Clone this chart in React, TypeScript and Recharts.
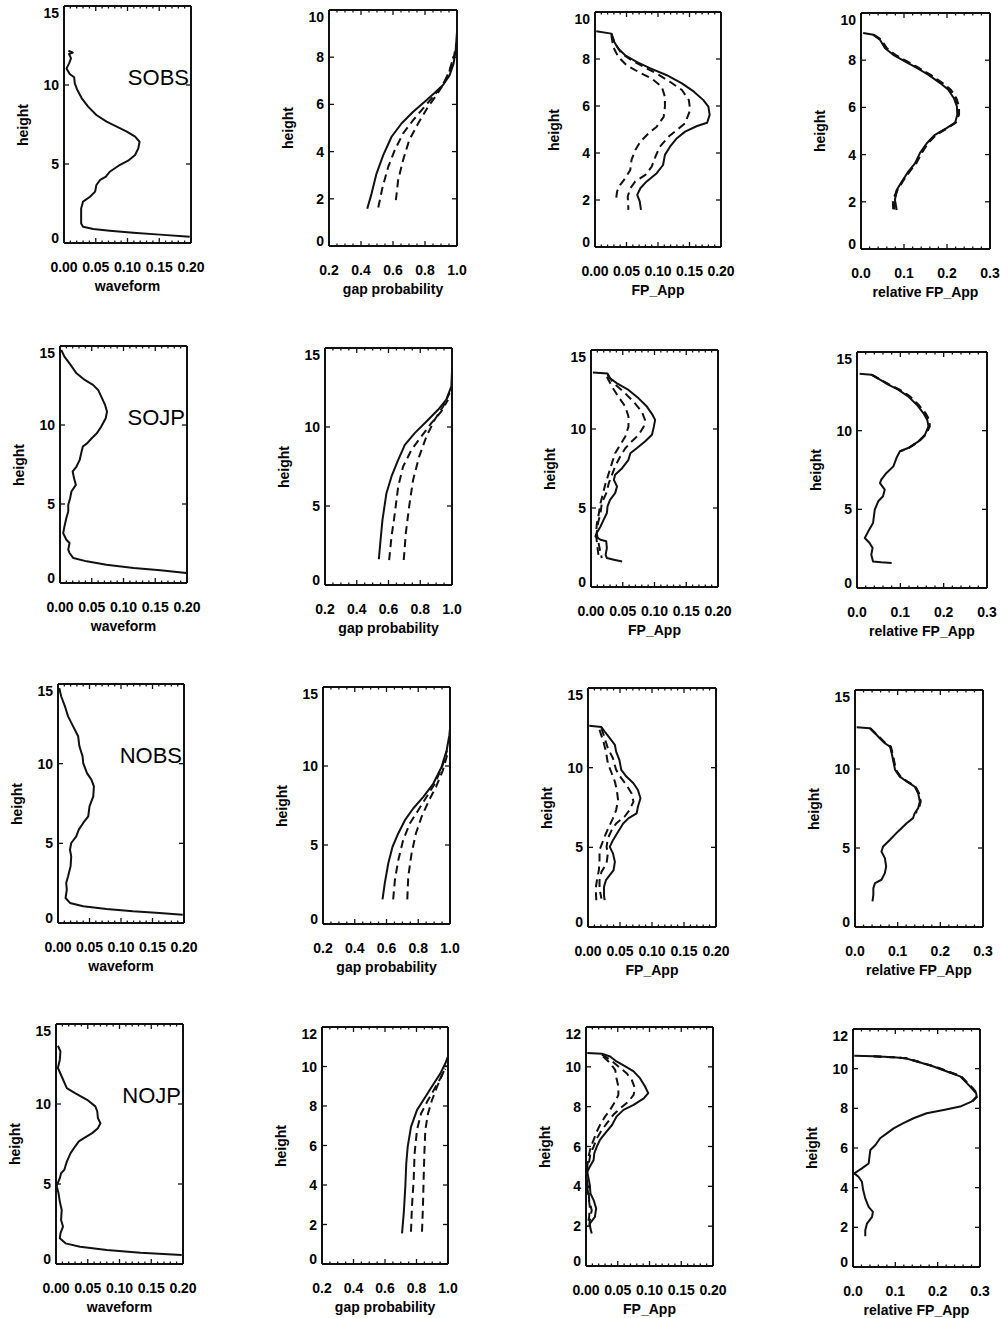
import React from 'react';
import { ScatterChart, Scatter, XAxis, YAxis } from 'recharts';

// Each profile point is [height, value].
type Pt = [number, number];

// ---------- axis tick labels ----------
const WAVE_TICKS = [0, 0.05, 0.1, 0.15, 0.2];
const GAP_TICKS = [0.2, 0.4, 0.6, 0.8, 1.0];
const FP_TICKS = [0, 0.05, 0.1, 0.15, 0.2];
const REL_TICKS = [0, 0.1, 0.2, 0.3];
const H15_TICKS = [0, 5, 10, 15];
const H10_TICKS = [0, 2, 4, 6, 8, 10];
const H12_TICKS = [0, 2, 4, 6, 8, 10, 12];
const SITES = ['SOBS', 'SOJP', 'NOBS', 'NOJP'];
const X_TITLES = ['waveform', 'gap probability', 'FP_App', 'relative FP_App'];

// ---------- SOBS ----------
const sobsWaveform: Pt[] = [[12.17,0.007],[12.05,0.014],[11.96,0.008],[11.69,0.011],[11.37,0.008],[11.05,0.004],[10.70,0.009],[10.49,0.016],[10.10,0.017],[9.68,0.021],[9.16,0.028],[8.63,0.038],[8.10,0.051],[7.68,0.067],[7.36,0.083],[7.05,0.099],[6.73,0.112],[6.41,0.119],[5.99,0.117],[5.57,0.112],[5.21,0.101],[4.89,0.086],[4.51,0.072],[4.20,0.066],[3.99,0.057],[3.67,0.051],[3.25,0.049],[2.93,0.041],[2.62,0.030],[2.19,0.027],[1.67,0.027],[1.24,0.027],[1.03,0.030],[0.89,0.046],[0.78,0.072],[0.65,0.109],[0.53,0.151],[0.40,0.198]];
const sobsGap: Pt[] = [[1.58,0.439],[2.22,0.466],[3.07,0.497],[3.85,0.539],[4.63,0.591],[5.19,0.653],[5.69,0.726],[6.11,0.798],[6.49,0.861],[6.82,0.913],[7.24,0.954],[7.74,0.979],[8.30,0.992],[9.08,1.0]];
const sobsGapA: Pt[] = [[1.63,0.508],[2.50,0.535],[3.35,0.570],[4.06,0.611],[4.77,0.663],[5.33,0.726],[5.83,0.788],[6.32,0.850],[6.75,0.902],[7.24,0.944],[7.81,0.975],[8.59,0.996]];
const sobsGapB: Pt[] = [[1.94,0.618],[2.79,0.632],[3.64,0.663],[4.48,0.701],[5.19,0.757],[5.90,0.819],[6.39,0.871],[6.82,0.913],[7.38,0.950],[8.02,0.979]];
const sobsFp: Pt[] = [[9.18,0.002],[9.08,0.026],[8.80,0.029],[8.44,0.037],[8.16,0.048],[7.88,0.066],[7.60,0.088],[7.31,0.114],[6.96,0.138],[6.61,0.157],[6.25,0.172],[5.97,0.180],[5.62,0.182],[5.29,0.178],[5.15,0.162],[4.91,0.143],[4.63,0.130],[4.27,0.119],[3.92,0.111],[3.49,0.108],[3.14,0.098],[2.79,0.082],[2.50,0.072],[2.22,0.067],[1.94,0.071],[1.58,0.073]];
const sobsFpA: Pt[] = [[9.08,0.026],[8.66,0.032],[8.23,0.042],[7.95,0.058],[7.67,0.077],[7.38,0.098],[7.03,0.119],[6.68,0.138],[6.25,0.149],[5.83,0.151],[5.26,0.143],[4.98,0.130],[4.70,0.117],[4.27,0.103],[3.85,0.096],[3.42,0.090],[3.07,0.080],[2.79,0.064],[2.50,0.056],[2.15,0.052],[1.58,0.053]];
const sobsFpB: Pt[] = [[9.01,0.026],[8.51,0.029],[8.09,0.037],[7.74,0.050],[7.45,0.069],[7.17,0.090],[6.82,0.106],[6.39,0.111],[5.97,0.111],[5.54,0.109],[5.12,0.098],[4.84,0.085],[4.48,0.072],[4.13,0.064],[3.71,0.058],[3.28,0.056],[2.93,0.048],[2.64,0.040],[2.36,0.035],[1.94,0.033]];
const sobsRel: Pt[] = [[9.15,0.005],[9.08,0.029],[8.87,0.044],[8.51,0.056],[8.23,0.075],[7.95,0.102],[7.67,0.130],[7.38,0.157],[7.03,0.184],[6.75,0.203],[6.39,0.216],[6.04,0.223],[5.69,0.224],[5.36,0.219],[5.12,0.199],[4.84,0.172],[4.48,0.153],[4.06,0.137],[3.64,0.126],[3.28,0.110],[2.86,0.095],[2.50,0.083],[2.08,0.079],[1.65,0.083]];
const sobsRelA: Pt[] = [[9.08,0.030],[8.87,0.047],[8.51,0.060],[8.23,0.080],[7.95,0.107],[7.67,0.135],[7.38,0.162],[7.03,0.190],[6.75,0.209],[6.39,0.222],[6.04,0.228],[5.69,0.228],[5.36,0.221],[5.12,0.201],[4.84,0.175],[4.48,0.156],[4.06,0.141],[3.64,0.129],[3.28,0.113],[2.86,0.097],[2.50,0.085],[2.08,0.077],[1.65,0.078]];
const sobsRelB: Pt[] = [[9.08,0.028],[8.87,0.045],[8.51,0.058],[8.23,0.078],[7.95,0.105],[7.67,0.132],[7.38,0.160],[7.03,0.187],[6.75,0.207],[6.39,0.220],[6.04,0.226],[5.69,0.226],[5.36,0.220],[5.12,0.200],[4.84,0.173],[4.48,0.154],[4.06,0.139],[3.64,0.127],[3.28,0.112],[2.86,0.096],[2.50,0.084],[2.08,0.074],[1.65,0.075]];

// ---------- SOJP ----------
const sojpWaveform: Pt[] = [[14.75,0.002],[14.33,0.007],[13.90,0.015],[13.27,0.026],[12.85,0.039],[12.54,0.052],[12.22,0.060],[11.80,0.065],[11.27,0.071],[10.85,0.074],[10.43,0.072],[9.90,0.065],[9.48,0.058],[9.16,0.050],[8.85,0.043],[8.64,0.036],[8.32,0.034],[7.79,0.031],[7.37,0.026],[7.06,0.020],[6.64,0.022],[6.21,0.025],[5.79,0.018],[5.37,0.016],[4.95,0.013],[4.53,0.013],[4.11,0.010],[3.58,0.007],[3.16,0.005],[2.74,0.010],[2.53,0.015],[2.11,0.013],[1.90,0.015],[1.58,0.021],[1.37,0.042],[1.16,0.073],[0.95,0.116],[0.80,0.158],[0.63,0.199]];
const sojpGap: Pt[] = [[1.63,0.539],[2.85,0.550],[4.12,0.562],[5.81,0.587],[6.87,0.619],[7.92,0.661],[8.87,0.703],[9.61,0.765],[10.35,0.839],[11.09,0.912],[11.73,0.964],[12.57,0.996],[13.52,1.0]];
const sojpGapA: Pt[] = [[1.58,0.604],[3.06,0.619],[4.54,0.640],[6.23,0.661],[7.50,0.692],[8.56,0.745],[9.40,0.807],[10.25,0.870],[10.99,0.933],[11.73,0.975]];
const sojpGapB: Pt[] = [[1.58,0.696],[3.27,0.709],[4.96,0.730],[6.65,0.755],[8.13,0.793],[9.40,0.839],[10.46,0.891],[11.30,0.944],[12.15,0.985]];
const sojpFp: Pt[] = [[13.57,0.003],[13.52,0.026],[13.21,0.030],[12.89,0.041],[12.47,0.059],[11.94,0.075],[11.42,0.088],[10.89,0.097],[10.58,0.101],[10.15,0.099],[9.63,0.096],[9.21,0.085],[8.78,0.072],[8.47,0.062],[8.05,0.059],[7.52,0.049],[7.10,0.038],[6.78,0.036],[6.36,0.041],[5.94,0.038],[5.52,0.030],[5.10,0.026],[4.68,0.025],[4.26,0.020],[3.83,0.015],[3.41,0.009],[3.20,0.007],[2.99,0.015],[2.89,0.024],[2.46,0.025],[2.04,0.023],[1.83,0.025],[1.73,0.036],[1.62,0.049]];
const sojpFpA: Pt[] = [[13.42,0.026],[12.89,0.036],[12.37,0.051],[11.73,0.067],[11.10,0.080],[10.58,0.085],[10.15,0.083],[9.63,0.075],[9.21,0.064],[8.78,0.054],[8.26,0.046],[7.63,0.038],[7.10,0.033],[6.57,0.028],[5.94,0.024],[5.31,0.017],[4.68,0.015],[4.04,0.011],[3.41,0.009],[2.78,0.012],[2.15,0.015],[1.83,0.017]];
const sojpFpB: Pt[] = [[13.31,0.025],[12.68,0.033],[12.05,0.043],[11.42,0.054],[10.79,0.059],[10.15,0.059],[9.52,0.054],[9.00,0.046],[8.47,0.038],[7.84,0.033],[7.20,0.028],[6.57,0.023],[5.94,0.019],[5.31,0.015],[4.57,0.012],[3.94,0.009],[3.31,0.008],[2.57,0.010],[1.94,0.012]];
const sojpRel: Pt[] = [[13.62,0.006],[13.56,0.033],[13.24,0.053],[12.92,0.072],[12.61,0.095],[12.18,0.118],[11.65,0.138],[11.12,0.153],[10.70,0.162],[10.28,0.165],[9.75,0.157],[9.32,0.142],[8.90,0.118],[8.69,0.099],[8.26,0.091],[7.73,0.084],[7.31,0.068],[6.89,0.056],[6.67,0.053],[6.25,0.064],[5.83,0.060],[5.51,0.049],[4.98,0.041],[4.56,0.039],[4.13,0.037],[3.60,0.026],[3.18,0.018],[2.86,0.029],[2.54,0.036],[2.12,0.033],[1.69,0.037],[1.63,0.056],[1.59,0.080]];
const sojpRelA: Pt[] = [[13.56,0.034],[13.24,0.055],[12.92,0.075],[12.61,0.098],[12.18,0.122],[11.65,0.142],[11.12,0.158],[10.70,0.167],[10.28,0.168],[9.75,0.159],[9.32,0.143],[8.90,0.120],[8.69,0.100]];
const sojpRelB: Pt[] = [[13.56,0.033],[13.24,0.054],[12.92,0.074],[12.61,0.097],[12.18,0.121],[11.65,0.140],[11.12,0.156],[10.70,0.165],[10.28,0.166],[9.75,0.158],[9.32,0.142],[8.90,0.119]];

// ---------- NOBS ----------
const nobsWaveform: Pt[] = [[14.75,0.002],[14.23,0.005],[13.60,0.011],[12.97,0.016],[12.34,0.024],[11.72,0.032],[11.09,0.034],[10.46,0.039],[10.04,0.040],[9.41,0.046],[9.00,0.053],[8.58,0.057],[7.95,0.056],[7.32,0.050],[6.69,0.048],[6.28,0.040],[5.86,0.033],[5.44,0.029],[5.02,0.021],[4.60,0.019],[4.18,0.021],[3.56,0.020],[2.93,0.016],[2.51,0.013],[2.09,0.014],[1.57,0.012],[1.26,0.019],[1.05,0.040],[0.88,0.077],[0.73,0.119],[0.63,0.161],[0.52,0.198]];
const nobsGap: Pt[] = [[1.56,0.575],[2.57,0.589],[3.83,0.611],[4.89,0.638],[5.73,0.674],[6.57,0.716],[7.31,0.768],[8.05,0.832],[8.89,0.895],[9.94,0.947],[11.00,0.979],[11.95,0.996],[12.37,1.0]];
const nobsGapA: Pt[] = [[1.56,0.642],[2.78,0.653],[4.04,0.674],[5.31,0.705],[6.36,0.747],[7.20,0.800],[8.05,0.853],[8.89,0.905],[9.94,0.950],[11.00,0.982]];
const nobsGapB: Pt[] = [[1.56,0.731],[2.99,0.737],[4.47,0.758],[5.73,0.785],[6.78,0.821],[7.73,0.863],[8.68,0.912],[9.73,0.955],[10.79,0.985]];
const nobsFp: Pt[] = [[12.63,0.002],[12.55,0.021],[12.27,0.026],[11.85,0.034],[11.43,0.042],[11.01,0.044],[10.49,0.049],[9.86,0.052],[9.44,0.060],[9.02,0.071],[8.60,0.078],[8.08,0.082],[7.55,0.078],[7.13,0.076],[6.82,0.063],[6.50,0.055],[5.98,0.047],[5.45,0.039],[5.03,0.034],[4.62,0.039],[4.09,0.042],[3.57,0.040],[3.25,0.034],[2.94,0.028],[2.52,0.025],[1.99,0.025],[1.68,0.026]];
const nobsFpA: Pt[] = [[12.48,0.021],[11.85,0.026],[11.22,0.031],[10.59,0.039],[9.86,0.044],[9.34,0.052],[8.92,0.060],[8.39,0.068],[7.87,0.071],[7.34,0.065],[6.92,0.057],[6.50,0.044],[6.08,0.037],[5.56,0.031],[5.03,0.029],[4.62,0.031],[3.99,0.029],[3.46,0.021],[2.94,0.018],[2.41,0.018],[1.78,0.021]];
const nobsFpB: Pt[] = [[12.38,0.018],[11.64,0.024],[11.01,0.028],[10.28,0.031],[9.65,0.037],[9.13,0.042],[8.60,0.045],[7.97,0.047],[7.34,0.044],[6.82,0.039],[6.40,0.034],[5.87,0.028],[5.35,0.023],[4.83,0.018],[4.20,0.018],[3.57,0.017],[2.94,0.014],[2.41,0.012],[1.68,0.013]];
const nobsRel: Pt[] = [[12.64,0.004],[12.58,0.035],[12.26,0.047],[11.95,0.058],[11.63,0.070],[11.42,0.082],[11.00,0.086],[10.47,0.090],[9.94,0.094],[9.52,0.105],[9.21,0.121],[8.89,0.140],[8.47,0.148],[7.94,0.152],[7.52,0.148],[7.20,0.140],[6.89,0.136],[6.57,0.121],[6.05,0.101],[5.52,0.082],[5.10,0.066],[4.78,0.062],[4.36,0.070],[3.83,0.073],[3.41,0.070],[2.99,0.062],[2.78,0.047],[2.46,0.043],[2.04,0.043],[1.62,0.041]];
const nobsRelA: Pt[] = [[12.58,0.036],[12.26,0.048],[11.95,0.060],[11.63,0.072],[11.42,0.084],[11.00,0.088],[10.47,0.092],[9.94,0.096],[9.52,0.107],[9.21,0.123],[8.89,0.142],[8.47,0.150],[7.94,0.154],[7.52,0.150],[7.20,0.142]];
const nobsRelB: Pt[] = [[12.58,0.035],[12.26,0.047],[11.95,0.059],[11.63,0.071],[11.42,0.083],[11.00,0.087],[10.47,0.091],[9.94,0.095],[9.52,0.106],[9.21,0.122],[8.89,0.141],[8.47,0.149],[7.94,0.153]];

// ---------- NOJP ----------
const nojpWaveform: Pt[] = [[13.64,0.003],[13.29,0.007],[12.77,0.006],[12.25,0.003],[11.72,0.009],[10.99,0.017],[10.68,0.030],[10.26,0.049],[9.85,0.062],[9.53,0.065],[9.12,0.066],[8.80,0.070],[8.49,0.066],[8.18,0.057],[7.87,0.044],[7.66,0.036],[7.34,0.030],[6.93,0.023],[6.40,0.017],[5.88,0.013],[5.67,0.008],[5.36,0.006],[4.88,0.001],[4.42,0.004],[3.90,0.006],[3.38,0.009],[2.75,0.008],[2.34,0.011],[1.92,0.007],[1.61,0.006],[1.29,0.015],[1.08,0.038],[0.88,0.080],[0.71,0.133],[0.56,0.198]];
const nojpGap: Pt[] = [[1.55,0.708],[2.56,0.719],[3.91,0.729],[5.09,0.735],[5.93,0.744],[6.94,0.765],[7.79,0.803],[8.46,0.856],[9.13,0.909],[9.64,0.951],[10.15,0.983],[10.48,0.998]];
const nojpGapA: Pt[] = [[1.63,0.765],[2.90,0.771],[4.25,0.782],[5.60,0.788],[6.78,0.803],[7.62,0.829],[8.21,0.867],[8.80,0.909],[9.39,0.951],[9.89,0.983]];
const nojpGapB: Pt[] = [[1.63,0.835],[2.90,0.841],[4.25,0.845],[5.60,0.850],[6.78,0.856],[7.62,0.873],[8.29,0.898],[8.97,0.930],[9.56,0.962],[10.06,0.990]];
const nojpFp: Pt[] = [[10.69,0.002],[10.66,0.025],[10.52,0.038],[10.27,0.048],[10.02,0.062],[9.77,0.075],[9.43,0.085],[9.01,0.093],[8.68,0.098],[8.42,0.091],[8.09,0.075],[7.84,0.059],[7.50,0.048],[7.08,0.041],[6.66,0.030],[6.33,0.022],[5.99,0.017],[5.66,0.013],[5.32,0.012],[4.98,0.006],[4.73,0.002],[4.40,0.004],[4.06,0.006],[3.64,0.007],[3.31,0.012],[2.89,0.016],[2.47,0.014],[2.13,0.006],[1.88,0.007],[1.63,0.009]];
const nojpFpA: Pt[] = [[10.61,0.025],[10.36,0.038],[10.02,0.051],[9.68,0.064],[9.35,0.072],[8.93,0.077],[8.59,0.075],[8.26,0.067],[7.92,0.054],[7.59,0.043],[7.17,0.033],[6.83,0.025],[6.41,0.017],[5.99,0.012],[5.66,0.007],[5.24,0.005],[4.82,0.002],[4.31,0.001],[3.81,0.004],[3.31,0.005],[2.80,0.009],[2.30,0.006],[1.88,0.005]];
const nojpFpB: Pt[] = [[10.52,0.027],[10.19,0.038],[9.85,0.046],[9.43,0.048],[9.01,0.051],[8.59,0.051],[8.26,0.046],[7.84,0.038],[7.50,0.030],[7.08,0.022],[6.75,0.017],[6.33,0.012],[5.91,0.007],[5.49,0.004],[4.98,0.002],[4.48,0.001],[3.98,0.002],[3.47,0.004],[2.97,0.006],[2.47,0.005],[1.96,0.002]];
const nojpRel: Pt[] = [[10.65,0.003],[10.62,0.049],[10.58,0.096],[10.53,0.123],[10.36,0.151],[10.11,0.190],[9.86,0.222],[9.61,0.253],[9.27,0.269],[9.02,0.280],[8.76,0.291],[8.60,0.292],[8.34,0.280],[8.09,0.253],[7.92,0.214],[7.75,0.174],[7.50,0.143],[7.25,0.119],[6.99,0.096],[6.74,0.080],[6.49,0.064],[6.15,0.053],[5.90,0.041],[5.56,0.039],[5.22,0.037],[4.97,0.021],[4.72,0.003],[4.55,0.013],[4.30,0.021],[3.88,0.024],[3.46,0.029],[3.03,0.037],[2.78,0.047],[2.53,0.045],[2.19,0.033],[1.85,0.029],[1.55,0.029]];
const nojpRelA: Pt[] = [[10.62,0.049],[10.58,0.097],[10.53,0.125],[10.36,0.153],[10.11,0.193],[9.86,0.224],[9.61,0.256],[9.27,0.271],[9.02,0.283],[8.76,0.293],[8.60,0.294],[8.34,0.282]];
const nojpRelB: Pt[] = [[10.62,0.048],[10.58,0.096],[10.53,0.124],[10.36,0.152],[10.11,0.192],[9.86,0.223],[9.61,0.255],[9.27,0.270],[9.02,0.282],[8.76,0.292],[8.60,0.293]];

// ---------- layout ----------
interface Series { pts: Pt[]; dashed?: boolean }
interface PanelDef {
  box: [number, number, number, number]; // plot frame: left, top, right, bottom
  xDomain: [number, number];
  xMajor: number[];
  xMinorStep: number;
  xDecimals: number;
  xTitle: string;
  yMax: number;
  yTicks: number[];
  series: Series[];
  tag?: string;
}

const FONT = "'Liberation Sans', Arial, Helvetica, sans-serif";
const INK = '#111';

const tickGrid = (lo: number, hi: number, step: number) => {
  const n = Math.round((hi - lo) / step);
  const out: number[] = [];
  for (let i = 0; i <= n; i++) out.push(Math.round((lo + i * step) * 1e6) / 1e6);
  return out;
};

const isIn = (list: number[], v: number) => list.some((m) => Math.abs(m - v) < 1e-9);

const col = (
  kind: number,
  box: [number, number, number, number],
  yMax: number,
  yTicks: number[],
  series: Series[],
  tag?: string,
): PanelDef => {
  const spec = [
    { xDomain: [0, 0.2] as [number, number], xMajor: WAVE_TICKS, xMinorStep: 0.01, xDecimals: 2 },
    { xDomain: [0.2, 1.0] as [number, number], xMajor: GAP_TICKS, xMinorStep: 0.05, xDecimals: 1 },
    { xDomain: [0, 0.2] as [number, number], xMajor: FP_TICKS, xMinorStep: 0.01, xDecimals: 2 },
    { xDomain: [0, 0.3] as [number, number], xMajor: REL_TICKS, xMinorStep: 0.02, xDecimals: 1 },
  ][kind];
  return { ...spec, box, yMax, yTicks, series, tag, xTitle: X_TITLES[kind] };
};

const S = (pts: Pt[]): Series => ({ pts });
const D = (pts: Pt[]): Series => ({ pts, dashed: true });

const PANELS: PanelDef[] = [
  col(0, [64, 6, 191, 243], 15, H15_TICKS, [S(sobsWaveform)], SITES[0]),
  col(1, [329, 10, 457, 246], 10, H10_TICKS, [S(sobsGap), D(sobsGapA), D(sobsGapB)]),
  col(2, [595, 12, 721, 247], 10, H10_TICKS, [S(sobsFp), D(sobsFpA), D(sobsFpB)]),
  col(3, [861, 13, 990, 249], 10, H10_TICKS, [S(sobsRel), D(sobsRelA), D(sobsRelB)]),

  col(0, [60, 346, 187, 583], 15, H15_TICKS, [S(sojpWaveform)], SITES[1]),
  col(1, [325, 348, 452, 585], 15, H15_TICKS, [S(sojpGap), D(sojpGapA), D(sojpGapB)]),
  col(2, [591, 350, 718, 587], 15, H15_TICKS, [S(sojpFp), D(sojpFpA), D(sojpFpB)]),
  col(3, [857, 352, 987, 588], 15, H15_TICKS, [S(sojpRel), D(sojpRelA), D(sojpRelB)]),

  col(0, [58, 684, 184, 923], 15, H15_TICKS, [S(nobsWaveform)], SITES[2]),
  col(1, [323, 687, 450, 924], 15, H15_TICKS, [S(nobsGap), D(nobsGapA), D(nobsGapB)]),
  col(2, [588, 688, 716, 927], 15, H15_TICKS, [S(nobsFp), D(nobsFpA), D(nobsFpB)]),
  col(3, [855, 690, 983, 927], 15, H15_TICKS, [S(nobsRel), D(nobsRelA), D(nobsRelB)]),

  col(0, [56, 1024, 183, 1264], 15, H15_TICKS, [S(nojpWaveform)], SITES[3]),
  col(1, [322, 1027, 448, 1264], 12, H12_TICKS, [S(nojpGap), D(nojpGapA), D(nojpGapB)]),
  col(2, [586, 1027, 713, 1266], 12, H12_TICKS, [S(nojpFp), D(nojpFpA), D(nojpFpB)]),
  col(3, [853, 1029, 980, 1267], 12, H12_TICKS, [S(nojpRel), D(nojpRelA), D(nojpRelB)]),
];

const YW = 50; // left axis band
const XH = 50; // bottom axis band
const TH = 1;  // top frame axis band (must be non-zero to be drawn)
const RW = 1;  // right frame axis band
const MT = 12;
const MR = 24;
const MAJOR = 5;
const MINOR = 2.5;

const labelStyle = { fontFamily: FONT, fontWeight: 700, fontSize: 14, fill: '#000' } as const;

const Empty = () => <g />;

const toRows = (pts: Pt[]) => pts.map(([hh, vv]) => ({ h: hh, v: vv }));

function Panel({ def }: { def: PanelDef }) {
  const [l, t, r, b] = def.box;
  const w = r - l;
  const h = b - t;
  const xAll = tickGrid(def.xDomain[0], def.xDomain[1], def.xMinorStep);
  const yDomain: [number, number] = [0, def.yMax];

  const bottomTick = (p: any) => {
    const v = p.payload.value as number;
    const major = isIn(def.xMajor, v);
    return (
      <g>
        <line x1={p.x} x2={p.x} y1={p.y} y2={p.y - (major ? MAJOR : MINOR)} stroke={INK} strokeWidth={1.3} />
        {major && (
          <text x={p.x} y={p.y + 29} textAnchor="middle" {...labelStyle}>
            {v.toFixed(def.xDecimals)}
          </text>
        )}
      </g>
    );
  };
  const topTick = (p: any) => {
    const v = p.payload.value as number;
    const major = isIn(def.xMajor, v);
    return <line x1={p.x} x2={p.x} y1={p.y} y2={p.y + (major ? MAJOR : MINOR)} stroke={INK} strokeWidth={1.3} />;
  };
  const leftTick = (p: any) => {
    const v = p.payload.value as number;
    // end labels sit slightly inside the frame
    const nudge = v === def.yMax ? 7 : v === 0 ? -5 : 0;
    return (
      <g>
        <line x1={p.x} x2={p.x + MAJOR} y1={p.y} y2={p.y} stroke={INK} strokeWidth={1.3} />
        <text x={p.x - 5} y={p.y + 5 + nudge} textAnchor="end" {...labelStyle}>
          {String(v)}
        </text>
      </g>
    );
  };
  const rightTick = (p: any) => (
    <line x1={p.x} x2={p.x - MAJOR} y1={p.y} y2={p.y} stroke={INK} strokeWidth={1.3} />
  );

  const axisLine = { stroke: INK, strokeWidth: 2 };

  return (
    <>
      <div style={{ position: 'absolute', left: l - YW, top: t - MT - TH }}>
        <ScatterChart
          width={YW + w + RW + MR}
          height={MT + TH + h + XH}
          margin={{ top: MT, right: MR, bottom: 0, left: 0 }}
        >
          <XAxis
            xAxisId="b"
            type="number"
            dataKey="v"
            domain={def.xDomain}
            allowDataOverflow
            ticks={xAll}
            interval={0}
            tickSize={0}
            tickMargin={0}
            tickLine={false}
            tick={bottomTick}
            axisLine={axisLine}
            height={XH}
          />
          <XAxis
            xAxisId="t"
            orientation="top"
            type="number"
            dataKey="v"
            domain={def.xDomain}
            allowDataOverflow
            ticks={xAll}
            interval={0}
            tickSize={0}
            tickMargin={0}
            tickLine={false}
            tick={topTick}
            axisLine={axisLine}
            height={TH}
          />
          <YAxis
            yAxisId="l"
            type="number"
            dataKey="h"
            domain={yDomain}
            allowDataOverflow
            ticks={def.yTicks}
            interval={0}
            tickSize={0}
            tickMargin={0}
            tickLine={false}
            tick={leftTick}
            axisLine={axisLine}
            width={YW}
          />
          <YAxis
            yAxisId="r"
            orientation="right"
            type="number"
            dataKey="h"
            domain={yDomain}
            allowDataOverflow
            ticks={def.yTicks}
            interval={0}
            tickSize={0}
            tickMargin={0}
            tickLine={false}
            tick={rightTick}
            axisLine={axisLine}
            width={RW}
          />
          {/* binds the top and right frame axes; draws no marks */}
          <Scatter
            xAxisId="t"
            yAxisId="r"
            data={toRows(def.series[0].pts)}
            shape={Empty}
            legendType="none"
            isAnimationActive={false}
          />
          {def.series.map((s, i) => (
            <Scatter
              key={i}
              xAxisId="b"
              yAxisId="l"
              data={toRows(s.pts)}
              fill={INK}
              line={{
                stroke: INK,
                strokeWidth: 2,
                strokeDasharray: s.dashed ? '8 5' : undefined,
                strokeLinejoin: 'round',
              }}
              lineType="joint"
              shape={Empty}
              isAnimationActive={false}
            />
          ))}
        </ScatterChart>
      </div>

      {/* y title */}
      <div
        style={{
          position: 'absolute',
          left: l - 41 - 50,
          top: t + h / 2 - 9,
          width: 100,
          height: 18,
          lineHeight: '18px',
          textAlign: 'center',
          transform: 'rotate(-90deg)',
          fontFamily: FONT,
          fontWeight: 700,
          fontSize: 14,
          color: '#000',
        }}
      >
        height
      </div>

      {/* x title */}
      <div
        style={{
          position: 'absolute',
          left: l + w / 2 - 100,
          top: b + 34,
          width: 200,
          lineHeight: '18px',
          textAlign: 'center',
          fontFamily: FONT,
          fontWeight: 700,
          fontSize: 14,
          color: '#000',
        }}
      >
        {def.xTitle}
      </div>

      {def.tag && (
        <div
          style={{
            position: 'absolute',
            left: r - 2 - 120,
            width: 120,
            top: t + 80 - 19,
            lineHeight: '22px',
            textAlign: 'right',
            fontFamily: FONT,
            fontSize: 22,
            color: '#000',
          }}
        >
          {def.tag}
        </div>
      )}
    </>
  );
}

export default function App() {
  return (
    <div
      style={{
        position: 'absolute',
        left: 0,
        top: 0,
        width: 1000,
        height: 1318,
        background: '#fff',
        overflow: 'hidden',
      }}
    >
      {PANELS.map((p, i) => (
        <Panel key={i} def={p} />
      ))}
    </div>
  );
}
